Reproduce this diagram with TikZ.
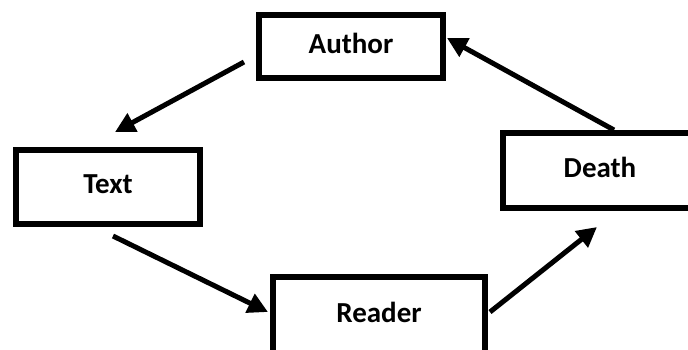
\documentclass[tikz,border=0pt]{standalone}
\usepackage{fontspec}
\setmainfont{Carlito}
\usetikzlibrary{arrows.meta,calc}
\newcommand{\lift}[1]{\raisebox{3pt}[\height][\depth]{#1}}
\begin{document}
\begin{tikzpicture}[x=1pt,y=-1pt,
  box/.style={draw,line width=6pt,inner sep=0pt,font=\fontsize{29}{31}\selectfont\bfseries},
  arr/.style={line width=5pt,-{Triangle[length=20pt,width=20pt]}}]
\useasboundingbox (0,0) rectangle (688,349);
\clip (0,0) rectangle (688,349);
\node[box,minimum width=184pt,minimum height=63pt] (author) at (351,46.5) {\lift{Author}};
\node[box,minimum width=184pt,minimum height=74pt] (text) at (108,187) {\lift{Text}};
\node[box,minimum width=212pt,minimum height=76pt] (reader) at (379,315) {\lift{Reader}};
\node[box,minimum width=194pt,minimum height=75pt] (death) at (600,170.5) {\lift{Death}};
\draw[arr] ($(author.west)+(-12,15.5)$) -- ($(text.north)+(7,-15)$);
\draw[arr] ($(text.south)+(5,9)$) -- ($(reader.west)+(-2,-3)$);
\draw[arr] ($(reader.east)+(2,-3)$) -- ($(death.south)+(-3,16)$);
\draw[arr] ($(death.north)+(14,0)$) -- ($(author.east)+(1,-8.5)$);
\end{tikzpicture}
\end{document}
